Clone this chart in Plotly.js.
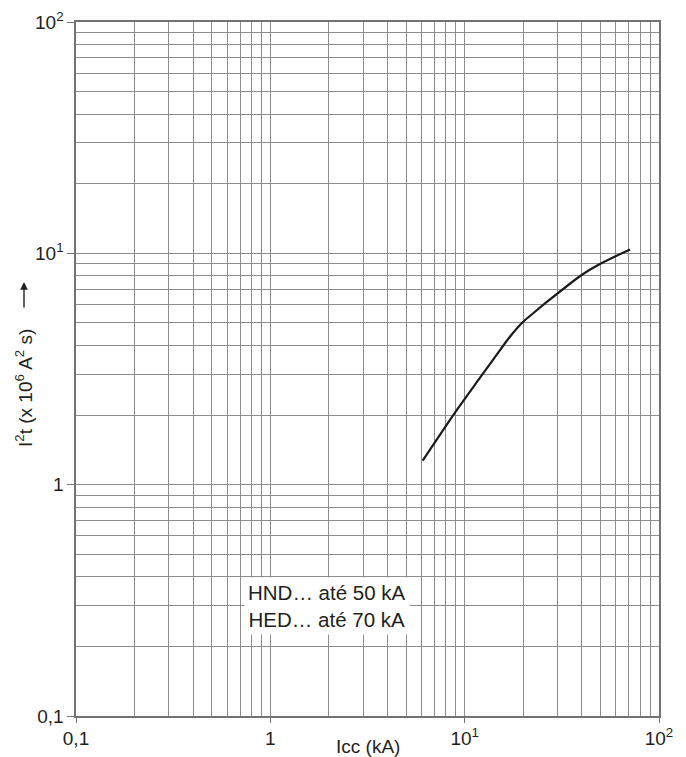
<!DOCTYPE html>
<html>
<head>
<meta charset="utf-8">
<script src="https://cdn.plot.ly/plotly-3.0.1.min.js"></script>
<style>html,body{margin:0;padding:0;background:#fff;}#chart{width:686px;height:757px;}</style>
</head>
<body>
<div id="chart"></div>
<script>
// Curve data (Icc in kA, I²t in 10^6 A²s)
var icc = [6.08, 9.1, 12.0, 15.2, 17.1, 20.0, 23.0, 26.4, 40.0, 49.7, 70.9];
var i2t = [1.27, 2.10, 2.90, 3.82, 4.36, 5.06, 5.59, 6.15, 8.06, 8.99, 10.4];

// Tick labels
var xTickVals = [0.1, 1, 10, 100];
var xTickText = ['0,1', '1', '10<sup>1</sup>', '10<sup>2</sup>'];
var yTickVals = [0.1, 1, 10, 100];
var yTickText = ['0,1', '1', '10<sup>1</sup>', '10<sup>2</sup>'];

// Texts
var noteLines = ['HND… até 50 kA', 'HED… até 70 kA'];
var notePos = {x: 1.96, y: 0.30};
var xTitle = 'Icc (kA)';
var yTitle = 'I<sup>2</sup>t (x 10<sup>6</sup> A<sup>2</sup> s)';

// minor grid values (2..9 in each decade)
var minorVals = [];
[0.1, 1, 10].forEach(function (d) {
  for (var k = 2; k <= 9; k++) minorVals.push(+(k * d).toPrecision(3));
});

var gridCol = '#8c8c8c';
var axisCol = '#737373';
var fnt = {family: 'Liberation Sans, Arial, sans-serif', size: 19, color: '#231f20'};
var noteFnt = {family: 'Liberation Sans, Arial, sans-serif', size: 20.5, color: '#231f20'};

var trace = {
  x: icc, y: i2t, type: 'scatter', mode: 'lines',
  line: {color: '#1a1a1a', width: 2.2, shape: 'spline', smoothing: 0.8},
  hoverinfo: 'skip', showlegend: false
};

var plotTop = 22, plotBottom = 716, plotH = plotBottom - plotTop;

var layout = {
  width: 686, height: 757,
  margin: {l: 76, r: 27, t: 22, b: 41},
  paper_bgcolor: '#fff', plot_bgcolor: '#fff',
  font: fnt,
  showlegend: false,
  xaxis: {
    type: 'log', range: [-1, 2], autorange: false, fixedrange: true,
    tickmode: 'array', tickvals: xTickVals, ticktext: xTickText,
    ticks: 'outside', ticklen: 5, tickcolor: axisCol, tickwidth: 1,
    tickfont: fnt,
    showgrid: true, gridcolor: gridCol, gridwidth: 1,
    minor: {tickmode: 'array', tickvals: minorVals, showgrid: true, gridcolor: gridCol, gridwidth: 1, ticks: ''},
    showline: true, linecolor: axisCol, linewidth: 1.6, mirror: true,
    zeroline: false, automargin: false
  },
  yaxis: {
    type: 'log', range: [-1, 2], autorange: false, fixedrange: true,
    tickmode: 'array', tickvals: yTickVals, ticktext: yTickText,
    ticks: 'outside', ticklen: 7, tickcolor: axisCol, tickwidth: 1,
    tickfont: fnt,
    showgrid: true, gridcolor: gridCol, gridwidth: 1,
    minor: {tickmode: 'array', tickvals: minorVals, showgrid: true, gridcolor: gridCol, gridwidth: 1, ticks: ''},
    showline: true, linecolor: axisCol, linewidth: 1.6, mirror: true,
    zeroline: false, automargin: false
  },
  annotations: [
    {
      xref: 'paper', yref: 'paper', x: 0.5, y: 0, yshift: -30,
      xanchor: 'center', yanchor: 'middle', showarrow: false,
      text: xTitle, font: fnt
    },
    {
      xref: 'paper', yref: 'paper', x: 0, xshift: -52,
      y: (plotBottom - 388) / plotH,
      xanchor: 'center', yanchor: 'middle', showarrow: false, textangle: -90,
      text: yTitle, font: fnt
    },
    {
      // arrow next to the y-axis title
      xref: 'paper', yref: 'paper', x: 0, xshift: -52,
      y: (plotBottom - 282) / plotH,
      ax: 0, ay: 27, text: '', showarrow: true,
      arrowhead: 2, arrowsize: 1.1, arrowwidth: 1.4, arrowcolor: '#231f20'
    },
    {
      xref: 'x', yref: 'y', x: Math.log10(notePos.x), y: Math.log10(notePos.y),
      xanchor: 'center', yanchor: 'middle', showarrow: false,
      text: noteLines.join('<br>'), font: noteFnt, align: 'center',
      bgcolor: '#ffffff', borderpad: 3
    }
  ]
};

Plotly.newPlot('chart', [trace], layout, {staticPlot: true, displayModeBar: false});
</script>
</body>
</html>
